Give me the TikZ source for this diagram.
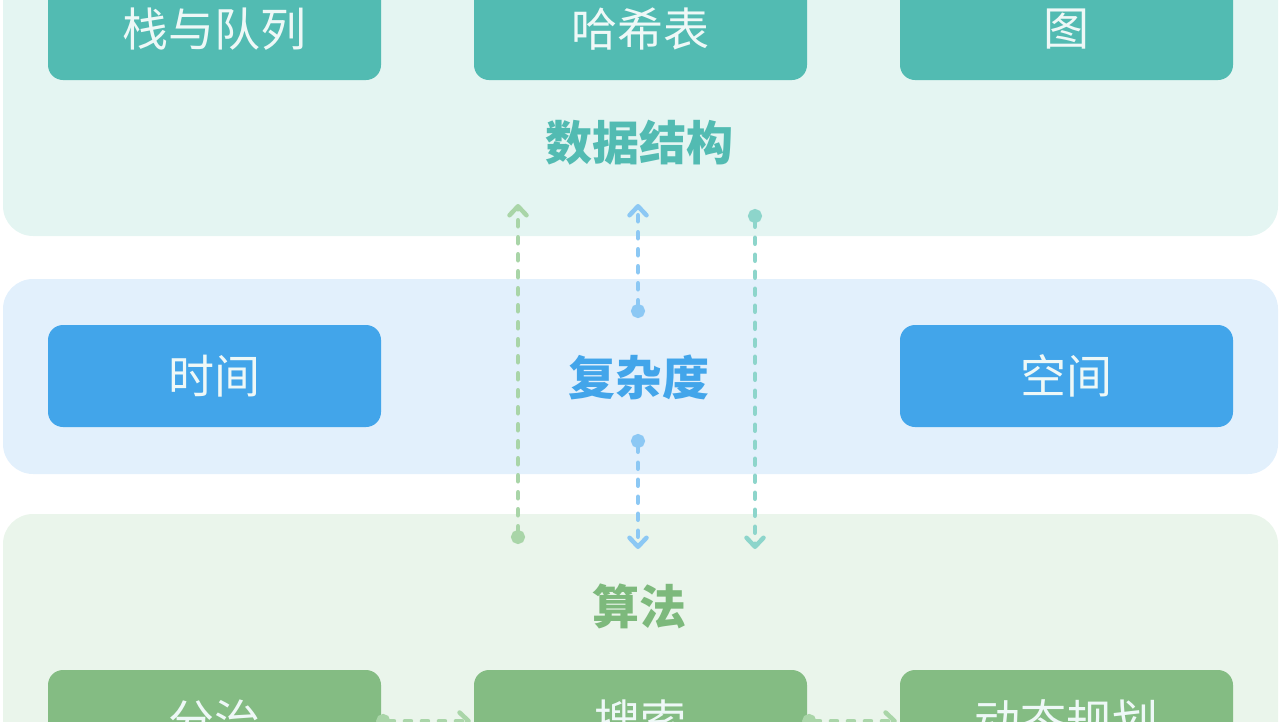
\documentclass[tikz,border=0pt]{standalone}
\usepackage{fontspec}
\setmainfont{Noto Sans CJK SC}
\usetikzlibrary{arrows.meta}
\definecolor{toppanel}{HTML}{E4F5F2}
\definecolor{tealbox}{HTML}{52BBB2}
\definecolor{midpanel}{HTML}{E2F0FC}
\definecolor{bluebox}{HTML}{42A5EA}
\definecolor{botpanel}{HTML}{EAF5EB}
\definecolor{greenbox}{HTML}{84BC83}
\definecolor{greentitle}{HTML}{7DB97C}
\definecolor{arrgreen}{HTML}{A9D5A8}
\definecolor{arrblue}{HTML}{8CC8F4}
\definecolor{arrteal}{HTML}{8DD5CB}
\definecolor{boxtext}{HTML}{EEF8F7}
\tikzset{
  panel/.style={rounded corners=30pt, inner sep=0pt, minimum width=1275pt},
  itembox/.style={rounded corners=15pt, inner sep=0pt, minimum width=333pt, minimum height=102pt,
    text=boxtext, font=\fontsize{46}{52}\selectfont},
  title/.style={font=\fontsize{47}{52}\selectfont\bfseries, inner sep=0pt},
  flow/.style={line width=4.5pt, dash pattern=on 6pt off 11pt, line cap=round,
    {Circle[length=14pt,width=14pt]}-{Straight Barb[length=9pt,width=17pt,round]}},
}
\begin{document}
\begin{tikzpicture}[x=1pt,y=-1pt]
\useasboundingbox (0,0) rectangle (1280,721);
\clip (0,0) rectangle (1280,721);
% panels
\node[panel, fill=toppanel, minimum height=300pt] (ds) at (640.5,86) {};
\node[panel, fill=midpanel, minimum height=195pt] (cx) at (640.5,376.5) {};
\node[panel, fill=botpanel, minimum height=330pt] (al) at (640.5,679) {};
% titles
\node[title, text=tealbox] (dst) at (639,143) {数据结构};
\node[title, text=bluebox] (cxt) at (639,377) {复杂度};
\node[title, text=greentitle] (alt) at (639,606) {算法};
% top boxes
\node[itembox, fill=tealbox] (stack) at (214.5,29) {栈与队列};
\node[itembox, fill=tealbox] (hash) at (640.5,29) {哈希表};
\node[itembox, fill=tealbox] (graph) at (1066.5,29) {图};
% middle boxes
\node[itembox, fill=bluebox] (time) at (214.5,376) {时间};
\node[itembox, fill=bluebox] (space) at (1066.5,376) {空间};
% bottom boxes
\node[itembox, fill=greenbox] (dc) at (214.5,721) {分治};
\node[itembox, fill=greenbox] (search) at (640.5,721) {搜索};
\node[itembox, fill=greenbox] (dp) at (1066.5,721) {动态规划};
% connector end points
\coordinate (g1) at (518,544); \coordinate (g2) at (518,204);
\coordinate (b1) at (638,318); \coordinate (b2) at (638,204);
\coordinate (b3) at (638,434); \coordinate (b4) at (638,549);
\coordinate (t1) at (755,209); \coordinate (t2) at (755,549);
\draw[flow, arrgreen] (g1) -- (g2);
\draw[flow, arrblue] (b1) -- (b2);
\draw[flow, arrblue] (b3) -- (b4);
\draw[flow, arrteal] (t1) -- (t2);
\draw[flow, arrgreen] ([xshift=-5pt]dc.east) -- ([xshift=-3pt]search.west);
\draw[flow, arrgreen] ([xshift=-5pt]search.east) -- ([xshift=-3pt]dp.west);
\end{tikzpicture}
\end{document}
